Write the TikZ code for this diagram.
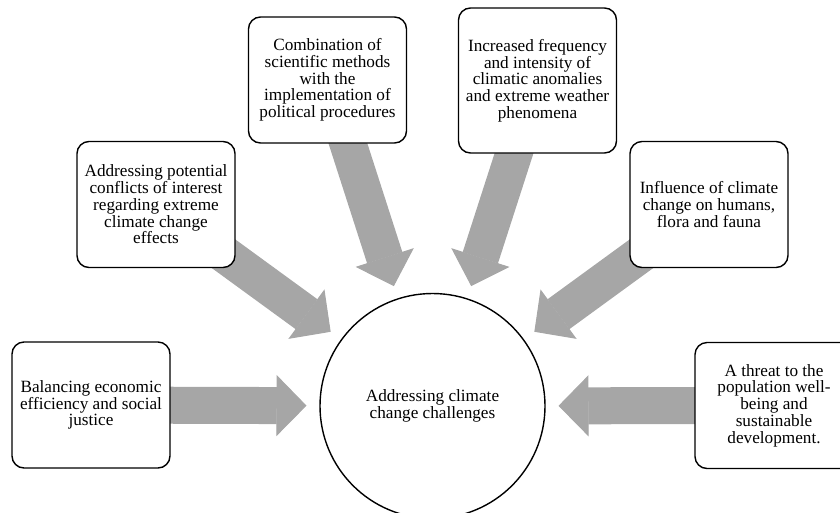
\documentclass[tikz,border=0pt]{standalone}
\usepackage{fontspec}
\setmainfont{Liberation Serif}
\usepackage{tikz}
\usetikzlibrary{arrows.meta}
\usetikzlibrary{backgrounds}
\definecolor{arrowgray}{RGB}{166,166,166}

\begin{document}
\begin{tikzpicture}[x=1pt, y=-1pt,
	txt/.style={align=center, font=\fontsize{17.2pt}{16.7pt}\selectfont},
	box/.style={txt, draw, line width=1.4pt, rounded corners=12pt, fill=white, minimum width=158pt, minimum height=126pt, inner sep=2pt},
	flow/.style={draw=arrowgray, line width=37pt, shorten >=13.5pt, -{Triangle[width=61pt, length=30pt, line width=1pt]}}]
	\useasboundingbox (0,0) rectangle (840,512);

	\node[txt, draw, circle, line width=1.4pt, minimum size=225pt, outer sep=0pt] (hub) at (432.5,406) {Addressing climate\\change challenges};	% centre

	\node[box] (balance) at (91,405) {Balancing economic\\efficiency and social\\justice};	% left side
	\node[box] (conflicts) at (156,204.5) {Addressing potential\\conflicts of interest\\regarding extreme\\climate change\\effects};
	\node[box] (methods) at (327.5,80) {Combination of\\scientific methods\\with the\\implementation of\\political procedures};
	\node[box, minimum height=145pt] (anomalies) at (537.5,80.5) {Increased frequency\\and intensity of\\climatic anomalies\\and extreme weather\\phenomena};	% right side
	\node[box] (influence) at (709,204.5) {Influence of climate\\change on humans,\\flora and fauna};
	\node[box] (threat) at (774,405.5) {A threat to the\\population well-\\being and\\sustainable\\development.};

	\begin{scope}[on background layer]	% Arrows
		\draw[flow] (balance.center) -- (hub);
		\draw[flow] (conflicts.center) -- (hub);
		\draw[flow] (methods.center) -- (hub);
		\draw[flow] (anomalies.center) -- (hub);
		\draw[flow] (influence.center) -- (hub);
		\draw[flow] (threat.center) -- (hub);
	\end{scope}
\end{tikzpicture}
\end{document}
